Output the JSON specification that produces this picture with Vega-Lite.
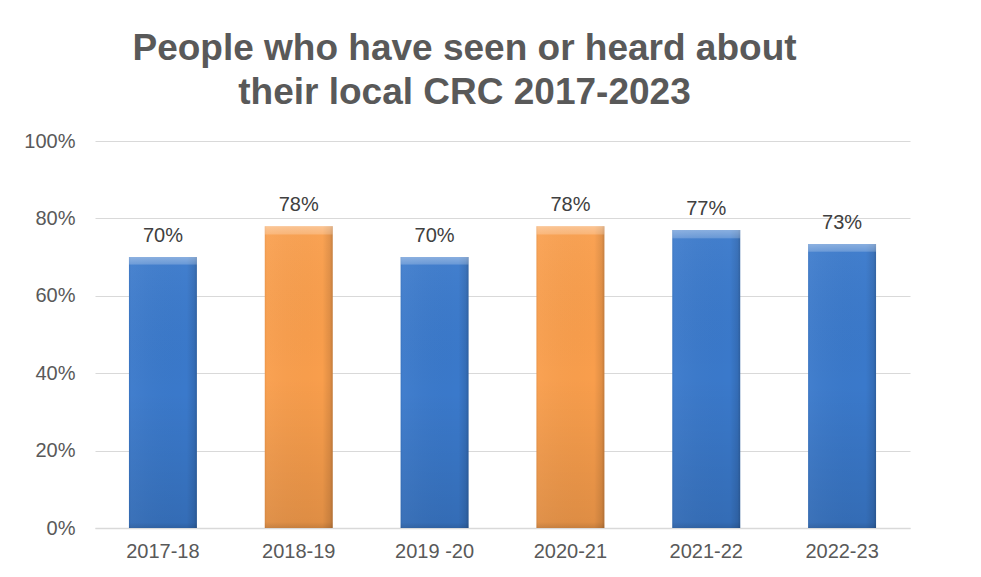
{
  "$schema": "https://vega.github.io/schema/vega-lite/v6.json",
  "width": 815,
  "height": 387,
  "autosize": {"type": "none"},
  "padding": {"left": 95, "top": 141, "right": 71, "bottom": 49},
  "background": "white",
  "view": {"stroke": null},
  "title": {
    "text": ["People who have seen or heard about", "their local CRC 2017-2023"],
    "font": "Liberation Sans",
    "fontSize": 37,
    "fontWeight": "bold",
    "color": "#595959",
    "lineHeight": 44,
    "anchor": "middle",
    "dx": -38,
    "offset": 19
  },
  "data": {
    "values": [
      {"year": "2017-18", "value": 0.70, "group": "blue"},
      {"year": "2018-19", "value": 0.78, "group": "orange"},
      {"year": "2019 -20", "value": 0.70, "group": "blue"},
      {"year": "2020-21", "value": 0.78, "group": "orange"},
      {"year": "2021-22", "value": 0.77, "group": "blue"},
      {"year": "2022-23", "value": 0.734, "group": "blue"}
    ]
  },
  "encoding": {
    "x": {
      "field": "year",
      "type": "nominal",
      "sort": null,
      "scale": {"paddingInner": 0.5, "paddingOuter": 0.25},
      "axis": {
        "title": null,
        "labelAngle": 0,
        "labelFont": "Liberation Sans",
        "labelFontSize": 20,
        "labelColor": "#595959",
        "ticks": false,
        "domainColor": "#d9d9d9",
        "domainWidth": 1.5,
        "labelPadding": 13,
        "grid": false
      }
    },
    "y": {
      "field": "value",
      "type": "quantitative",
      "scale": {"domain": [0, 1]},
      "axis": {
        "title": null,
        "values": [0, 0.2, 0.4, 0.6, 0.8, 1],
        "format": ".0%",
        "grid": true,
        "gridColor": "#d9d9d9",
        "gridWidth": 1.2,
        "domain": false,
        "ticks": false,
        "labelPadding": 20,
        "labelFont": "Liberation Sans",
        "labelFontSize": 20,
        "labelColor": "#595959"
      }
    }
  },
  "layer": [
    {
      "mark": {"type": "bar"},
      "encoding": {
        "color": {
          "field": "group",
          "type": "nominal",
          "scale": {"domain": ["blue", "orange"], "range": ["#3a79cb", "#f99e4c"]},
          "legend": null
        }
      }
    },
    {
      "mark": {
        "type": "bar",
        "fill": {
          "gradient": "linear",
          "x1": 0, "y1": 0, "x2": 1, "y2": 0,
          "stops": [
            {"offset": 0, "color": "rgba(0,0,0,0.06)"},
            {"offset": 0.03, "color": "rgba(255,255,255,0.04)"},
            {"offset": 0.85, "color": "rgba(0,0,0,0.0)"},
            {"offset": 0.96, "color": "rgba(0,0,0,0.1)"},
            {"offset": 1, "color": "rgba(0,0,0,0.22)"}
          ]
        }
      }
    },
    {
      "mark": {
        "type": "bar",
        "fill": {
          "gradient": "linear",
          "x1": 0, "y1": 0, "x2": 0, "y2": 1,
          "stops": [
            {"offset": 0, "color": "rgba(255,255,255,0.4)"},
            {"offset": 0.025, "color": "rgba(255,255,255,0.25)"},
            {"offset": 0.03, "color": "rgba(255,255,255,0.04)"},
            {"offset": 0.5, "color": "rgba(0,0,0,0.0)"},
            {"offset": 0.98, "color": "rgba(0,0,0,0.1)"},
            {"offset": 1, "color": "rgba(0,0,0,0.2)"}
          ]
        }
      }
    },
    {
      "mark": {
        "type": "text",
        "baseline": "alphabetic",
        "dy": -15,
        "font": "Liberation Sans",
        "fontSize": 20,
        "color": "#404040"
      },
      "encoding": {
        "text": {"field": "value", "type": "quantitative", "format": ".0%"}
      }
    }
  ]
}
